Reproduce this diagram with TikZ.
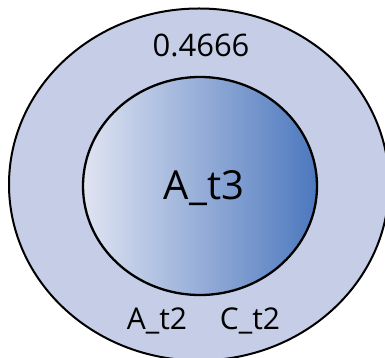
\documentclass[tikz,border=0pt]{standalone}
\usepackage{fontspec}
\setmainfont{Open Sans}
\usepackage{tikz}
\usetikzlibrary{positioning}
\definecolor{OuterBlue}{RGB}{197,206,230}
\definecolor{InnerLight}{RGB}{224,228,242}
\definecolor{InnerDark}{RGB}{76,120,190}

\begin{document}
\begin{tikzpicture}[x=1pt,y=1pt]
      \useasboundingbox (0,0) rectangle (385,358);
      \clip (0,0) rectangle (385,358);
      \coordinate (O) at (199,173.5);
      \coordinate (I) at (200,172);
      \draw[line width=2pt,fill=OuterBlue] (O) ellipse[x radius=190,y radius=176];
      \shade[left color=InnerLight,right color=InnerDark] (I) ellipse[x radius=117,y radius=109];
      \draw[line width=2.3pt] (I) ellipse[x radius=117,y radius=109];
      \node[anchor=base,font=\fontsize{31}{31}\selectfont,inner sep=0] (val) at (201,301) {0.4666};
      \node[anchor=base,font=\fontsize{40}{40}\selectfont,inner sep=0] (at3) at (204,158) {A\_t3};
      \node[anchor=base,font=\fontsize{30}{30}\selectfont,inner sep=0] (at2) at (157,28) {A\_t2};
      \node[anchor=base,font=\fontsize{30}{30}\selectfont,inner sep=0] (ct2) at (250,28) {C\_t2};
    \end{tikzpicture}
\end{document}
